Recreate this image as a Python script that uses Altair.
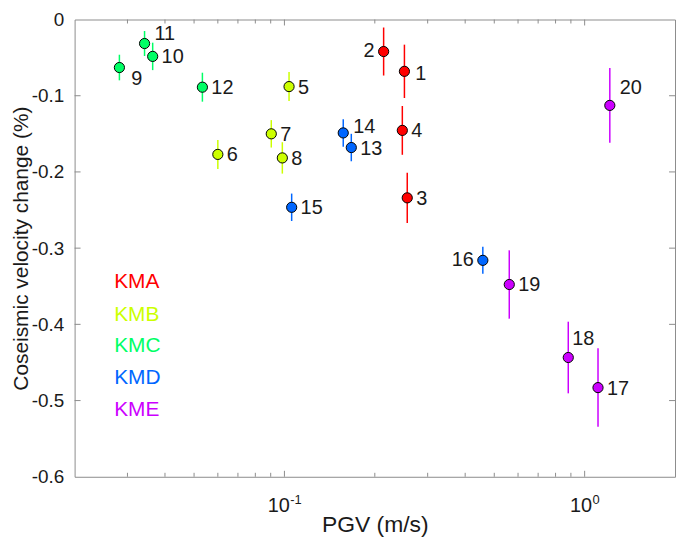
import altair as alt
import pandas as pd

# ---------------- data ----------------
IDS = list(range(1, 21))
STATIONS = ["KMA"] * 4 + ["KMB"] * 4 + ["KMC"] * 4 + ["KMD"] * 4 + ["KME"] * 4
PGV = [0.251, 0.214, 0.2565, 0.247,
       0.1036, 0.060, 0.0904, 0.0984,
       0.0282, 0.0364, 0.0342, 0.0533,
       0.167, 0.157, 0.1057, 0.458,
       1.108, 0.882, 0.561, 1.213]
DV = [-0.068, -0.042, -0.234, -0.1455,
      -0.088, -0.177, -0.150, -0.1816,
      -0.063, -0.0484, -0.0315, -0.0888,
      -0.168, -0.1488, -0.2464, -0.316,
      -0.483, -0.4435, -0.3477, -0.1127]
ERR = [0.035, 0.0315, 0.033, 0.032,
       0.019, 0.019, 0.018, 0.0206,
       0.0168, 0.018, 0.0164, 0.019,
       0.018, 0.018, 0.018, 0.0177,
       0.0515, 0.047, 0.0448, 0.049]

GROUPS = ["KMA", "KMB", "KMC", "KMD", "KME"]
GROUP_COLORS = ["#ff0000", "#ccff00", "#00ff66", "#0066ff", "#cc00ff"]
LEGEND_X = [0.0271] * 5
LEGEND_Y = [-0.345, -0.3875, -0.4285, -0.4705, -0.5125]

X_DOMAIN = [0.02, 2]
Y_DOMAIN = [-0.6, 0]
X_MAJOR = [0.1, 1]
X_MINOR = [0.03, 0.04, 0.05, 0.06, 0.07, 0.08, 0.09,
           0.2, 0.3, 0.4, 0.5, 0.6, 0.7, 0.8, 0.9]
Y_TICKS = [0, -0.1, -0.2, -0.3, -0.4, -0.5, -0.6]
X_TICK_BASE = ["10", "10"]
X_TICK_EXP = ["-1", "0"]

# label placement (styling): default right of the point
DEFAULT_OFFSET = (9, 1, "left")
LABEL_OFFSETS = {
    1: (11, 3, "left"),
    2: (-9, 0, "right"),
    16: (-9, 0, "right"),
    9: (12, 12, "left"),
    11: (10, -10, "left"),
    14: (10, -6, "left"),
    20: (10, -17, "left"),
    18: (4, -19, "left"),
}

# ---------------- layout ----------------
W, H = 604, 460
FONT = "Liberation Sans"
TXT = "#1a1a1a"
FRAME = "#8c8c8c"

df = pd.DataFrame({"id": IDS, "station": STATIONS, "pgv": PGV, "dv": DV, "err": ERR})
df["lo"] = df["dv"] - df["err"]
df["hi"] = df["dv"] + df["err"]
df["label"] = df["id"].astype(str)

xscale = alt.Scale(type="log", domain=X_DOMAIN, nice=False)
yscale = alt.Scale(domain=Y_DOMAIN, nice=False, zero=False)
cscale = alt.Scale(domain=GROUPS, range=GROUP_COLORS)

xaxis = alt.Axis(values=X_MAJOR, labels=False, ticks=False, domain=False, grid=False,
                 title="PGV (m/s)", titleFont=FONT, titleFontSize=23,
                 titleFontWeight="normal", titleColor=TXT,
                 titleY=55, titleBaseline="alphabetic")
yaxis = alt.Axis(values=Y_TICKS, ticks=False, domain=False, grid=False,
                 labelExpr="datum.value == 0 ? '0' : replace(format(datum.value, '.1f'), '\u2212', '-')",
                 labelFont=FONT, labelFontSize=19, labelColor=TXT, labelPadding=11,
                 title="Coseismic velocity change (%)", titleFont=FONT, titleFontSize=21,
                 titleFontWeight="normal", titleColor=TXT, titleX=-47,
                 titleBaseline="alphabetic")


def X(field):
    return alt.X(field, type="quantitative", scale=xscale, axis=xaxis)


def Y(field):
    return alt.Y(field, type="quantitative", scale=yscale, axis=yaxis)


base = alt.Chart(df)

errbars = base.mark_rule(strokeWidth=1.5).encode(
    x=X("pgv"), y=Y("lo"), y2="hi",
    color=alt.Color("station:N", scale=cscale, legend=None))

points = base.mark_circle(size=105, opacity=1, stroke="black", strokeWidth=1).encode(
    x=X("pgv"), y=Y("dv"),
    fill=alt.Fill("station:N", scale=cscale, legend=None))

# point labels, grouped by placement
groups = {}
for i in IDS:
    groups.setdefault(LABEL_OFFSETS.get(i, DEFAULT_OFFSET), []).append(i)
label_layers = []
for (dx, dy, align), ids in groups.items():
    label_layers.append(
        base.transform_filter(alt.FieldOneOfPredicate(field="id", oneOf=ids))
        .mark_text(align=align, baseline="middle", dx=dx, dy=dy,
                   font=FONT, fontSize=20, color=TXT)
        .encode(x=X("pgv"), y=Y("dv"), text="label:N"))

# legend texts
leg_df = pd.DataFrame({"name": GROUPS, "x": LEGEND_X, "y": LEGEND_Y})
legend = alt.Chart(leg_df).mark_text(align="left", baseline="middle", font=FONT, fontSize=21).encode(
    x=X("x"), y=Y("y"), text="name:N",
    color=alt.Color("name:N", scale=cscale, legend=None))

# inward ticks
xmaj = pd.DataFrame({"v": X_MAJOR})
xmin = pd.DataFrame({"v": X_MINOR})
ytk = pd.DataFrame({"v": Y_TICKS[1:-1]})
tick_style = dict(color=FRAME, strokeWidth=1)
ticks = [
    alt.Chart(xmaj).mark_rule(**tick_style).encode(x=X("v"), y=alt.value(H), y2=alt.value(H - 6)),
    alt.Chart(xmaj).mark_rule(**tick_style).encode(x=X("v"), y=alt.value(0), y2=alt.value(6)),
    alt.Chart(xmin).mark_rule(**tick_style).encode(x=X("v"), y=alt.value(H), y2=alt.value(H - 4)),
    alt.Chart(xmin).mark_rule(**tick_style).encode(x=X("v"), y=alt.value(0), y2=alt.value(4)),
    alt.Chart(ytk).mark_rule(**tick_style).encode(y=Y("v"), x=alt.value(0), x2=alt.value(6)),
    alt.Chart(ytk).mark_rule(**tick_style).encode(y=Y("v"), x=alt.value(W), x2=alt.value(W - 6)),
]

# x tick labels as 10 with superscript exponent
BASE_FS, EXP_FS = 20, 13
xlab_layers = []
for v, b, e in zip(X_MAJOR, X_TICK_BASE, X_TICK_EXP):
    bw = 0.556 * BASE_FS * len(b)
    ew = sum(0.333 if ch == "-" else 0.556 for ch in e) * EXP_FS
    total = bw + ew
    d = pd.DataFrame({"v": [v], "b": [b], "e": [e]})
    xlab_layers.append(alt.Chart(d).mark_text(align="right", baseline="alphabetic",
                                              dx=total / 2 - ew, font=FONT, fontSize=BASE_FS, color=TXT)
                       .encode(x=X("v"), y=alt.value(H + 35), text="b:N"))
    xlab_layers.append(alt.Chart(d).mark_text(align="left", baseline="alphabetic",
                                              dx=total / 2 - ew + 0.5, font=FONT, fontSize=EXP_FS, color=TXT)
                       .encode(x=X("v"), y=alt.value(H + 27), text="e:N"))

chart = alt.layer(*ticks, errbars, points, *label_layers, legend, *xlab_layers).properties(
    width=W, height=H,
    padding={"left": 67, "top": 10, "right": 2, "bottom": 59},
    autosize=alt.AutoSizeParams(type="none"),
).configure_view(stroke=FRAME, strokeWidth=1)

chart.save("out.html", embed_options={"renderer": "svg", "actions": False})
